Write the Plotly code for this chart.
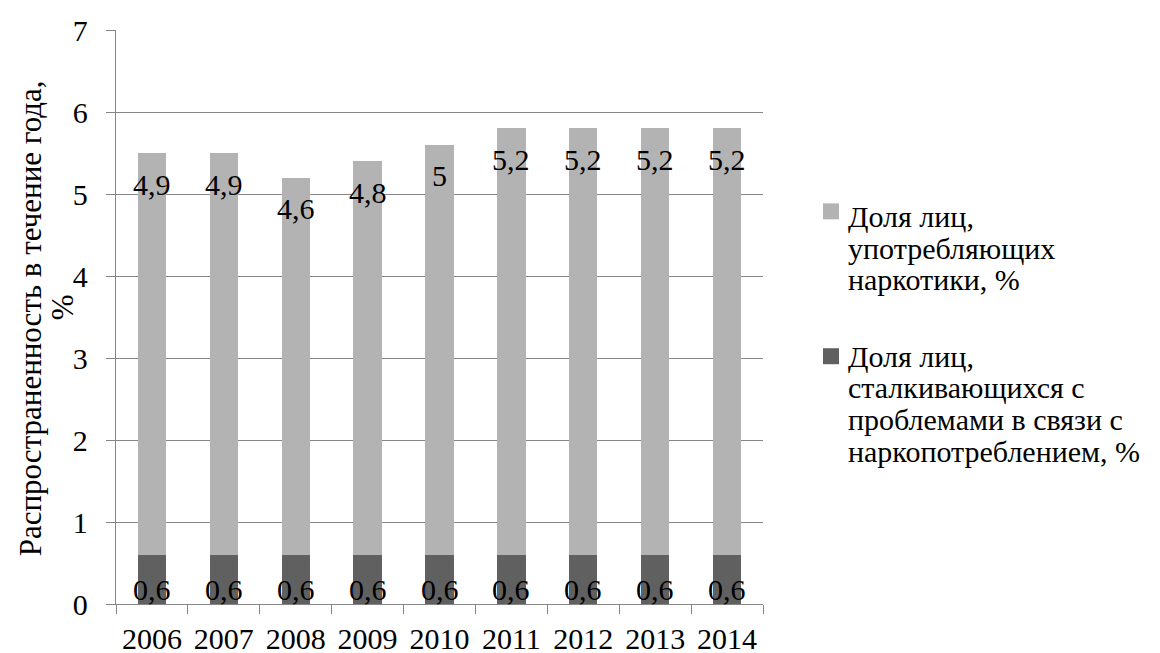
import plotly.graph_objects as go

# Data: share of population, %
years = ["2006", "2007", "2008", "2009", "2010", "2011", "2012", "2013", "2014"]
problem_users = [0.6, 0.6, 0.6, 0.6, 0.6, 0.6, 0.6, 0.6, 0.6]
drug_users = [4.9, 4.9, 4.6, 4.8, 5.0, 5.2, 5.2, 5.2, 5.2]
y_ticks = [0, 1, 2, 3, 4, 5, 6, 7]

name_users = "Доля лиц,<br>употребляющих<br>наркотики, %"
name_problem = "Доля лиц,<br>сталкивающихся с<br>проблемами в связи с<br>наркопотреблением, %"
y_title = ["Распространенность в течение года,", "%"]

LIGHT = "#b3b3b3"
DARK = "#606060"
GRID = "#868686"
FONT = "Liberation Serif, DejaVu Serif Condensed, DejaVu Serif, serif"
FS = 30

# plot area in pixels
W, H = 1160, 653
L, R, T, B = 116, 397, 29.5, 49
PW = W - L - R
PH = H - T - B


def fmt(v):
    return ("%g" % v).replace(".", ",")


def px_x(p):
    return (p - L) / PW


def px_y(p):
    return (H - B - p) / PH


fig = go.Figure()
fig.add_trace(go.Bar(x=years, y=problem_users, marker=dict(color=DARK, line=dict(width=0)),
                     name=name_problem, showlegend=False, hoverinfo="skip"))
fig.add_trace(go.Bar(x=years, y=drug_users, marker=dict(color=LIGHT, line=dict(width=0)),
                     name=name_users, showlegend=False, hoverinfo="skip"))

txt = dict(family=FONT, size=FS, color="black")
annotations = []
# value labels: light segment near its top, dark segment near the base
for i, (a, b) in enumerate(zip(problem_users, drug_users)):
    annotations.append(dict(x=i, y=a + b, xref="x", yref="y", text=fmt(b), showarrow=False,
                            yanchor="middle", yshift=-31, font=txt))
    annotations.append(dict(x=i, y=0, xref="x", yref="y", text=fmt(a), showarrow=False,
                            yanchor="middle", yshift=15, font=txt))

# y-axis title, two rotated lines
for line, cx, cy in zip(y_title, [30, 62], [318, 307]):
    annotations.append(dict(x=px_x(cx), y=px_y(cy), xref="paper", yref="paper",
                            text=line, textangle=-90, showarrow=False,
                            xanchor="center", yanchor="middle",
                            font=dict(family=FONT, size=31, color="black")))

# legend drawn as squares plus one text line per row
shapes = []
legend_items = [
    (LIGHT, name_users.split("<br>"), 203, 216),
    (DARK, name_problem.split("<br>"), 348, 356),
]
LINE_STEP = 31.7
for color, lines, sq_top, first_center in legend_items:
    shapes.append(dict(type="rect", xref="paper", yref="paper",
                       x0=px_x(823), x1=px_x(839), y0=px_y(sq_top + 16), y1=px_y(sq_top),
                       fillcolor=color, line=dict(width=0)))
    for k, line in enumerate(lines):
        annotations.append(dict(x=px_x(846), y=px_y(first_center + k * LINE_STEP),
                                xref="paper", yref="paper", text=line, showarrow=False,
                                xanchor="left", yanchor="middle", font=txt))

fig.update_layout(
    width=W, height=H,
    margin=dict(l=L, r=R, t=T, b=B, autoexpand=False),
    barmode="stack",
    bargap=0.606,
    plot_bgcolor="white",
    paper_bgcolor="white",
    font=txt,
    showlegend=False,
    annotations=annotations,
    shapes=shapes,
    xaxis=dict(
        type="category",
        range=[-0.5, len(years) - 0.5],
        showline=True, linecolor=GRID, linewidth=1.3,
        ticks="outside", tickson="boundaries", ticklen=9, tickcolor=GRID, tickwidth=1.3,
        ticklabelstandoff=8,
        showgrid=False,
        tickfont=txt,
        automargin=False,
    ),
    yaxis=dict(
        range=[0, 7],
        tickvals=y_ticks,
        ticktext=[str(v) for v in y_ticks],
        showline=True, linecolor=GRID, linewidth=1.3,
        ticks="outside", ticklen=9, tickcolor=GRID, tickwidth=1.3,
        ticklabelstandoff=12,
        showgrid=True, gridcolor=GRID, gridwidth=1.3,
        zeroline=False,
        tickfont=txt,
        automargin=False,
    ),
)

fig.write_html("out.html", config={"displayModeBar": False})
